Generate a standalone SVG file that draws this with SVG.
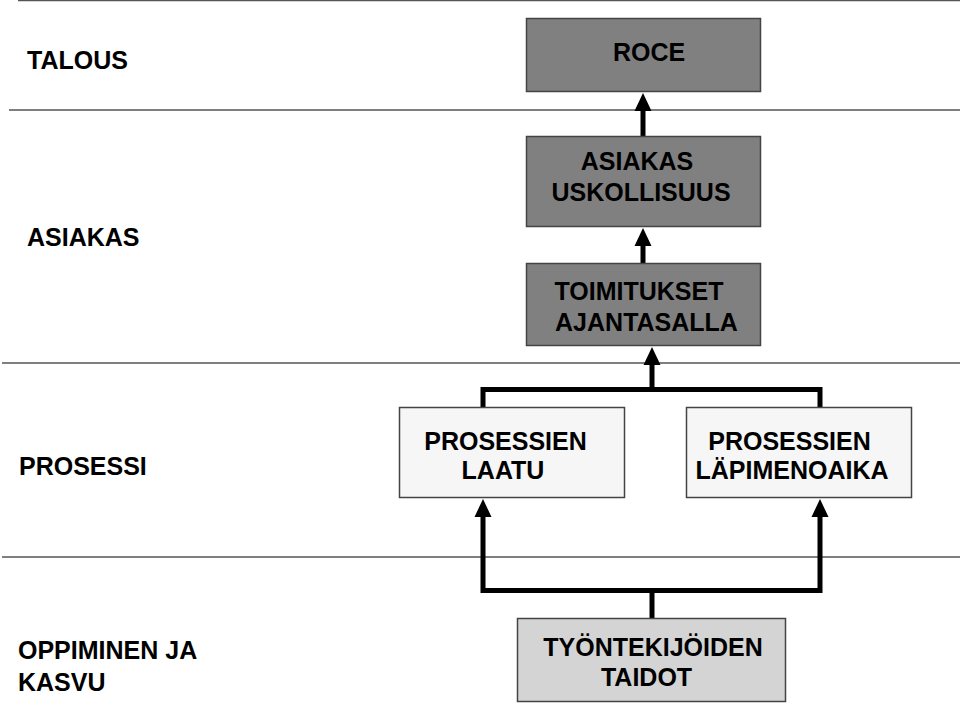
<svg xmlns="http://www.w3.org/2000/svg" width="960" height="703" viewBox="0 0 960 703">
<defs>
<style>
.sep{stroke:#555;stroke-width:1.5;fill:none}
.box{stroke:#444;stroke-width:1.5}
.t{font-family:"Liberation Sans",Arial,sans-serif;font-weight:bold;font-size:25px;fill:#000}
.c{text-anchor:middle}
.con{stroke:#000;stroke-width:5;fill:none}
</style>
<marker id="ah" markerUnits="userSpaceOnUse" markerWidth="18" markerHeight="18" refX="0" refY="8.5" orient="auto" overflow="visible">
<path d="M0,0 L18,8.5 L0,17 z" fill="#000"/>
</marker>
</defs>
<rect width="960" height="703" fill="#fff"/>
<g id="separators">
<line class="sep" x1="18" y1="0.5" x2="960" y2="0.5"/>
<line class="sep" x1="9" y1="110" x2="960" y2="110"/>
<line class="sep" x1="2" y1="363" x2="960" y2="363"/>
<line class="sep" x1="2" y1="557" x2="960" y2="557"/>
</g>
<g id="row-labels">
<text class="t" x="27" y="69">TALOUS</text>
<text class="t" x="27" y="246">ASIAKAS</text>
<text class="t" x="19" y="475">PROSESSI</text>
<text class="t" x="18" y="659">OPPIMINEN JA</text>
<text class="t" x="18" y="691">KASVU</text>
</g>
<g id="connectors">
<path class="con" d="M643,136 V111" marker-end="url(#ah)"/>
<path class="con" d="M643,263 V246" marker-end="url(#ah)"/>
<path class="con" d="M483,407 V389.5 H820 V407"/>
<path class="con" d="M652,389.5 V365" marker-end="url(#ah)"/>
<path class="con" d="M652,618 V590.5 H483 V517" marker-end="url(#ah)"/>
<path class="con" d="M652,590.5 H820 V517" marker-end="url(#ah)"/>
</g>
<g id="roce">
<rect class="box" x="526.5" y="18.5" width="234" height="73" fill="#808080"/>
<text class="t c" x="649" y="61">ROCE</text>
</g>
<g id="asiakas-uskollisuus">
<rect class="box" x="526.5" y="136.5" width="234" height="90" fill="#808080"/>
<text class="t c" x="637" y="170">ASIAKAS</text>
<text class="t c" x="641" y="201">USKOLLISUUS</text>
</g>
<g id="toimitukset">
<rect class="box" x="526.5" y="263.5" width="234" height="82" fill="#808080"/>
<text class="t c" x="639" y="300">TOIMITUKSET</text>
<text class="t c" x="646.5" y="331">AJANTASALLA</text>
</g>
<g id="prosessien-laatu">
<rect class="box" x="399.5" y="407.5" width="225" height="90" fill="#f6f6f6"/>
<text class="t c" x="505.5" y="450">PROSESSIEN</text>
<text class="t c" x="503" y="479">LAATU</text>
</g>
<g id="prosessien-lapimenoaika">
<rect class="box" x="686.5" y="407.5" width="225" height="90" fill="#f6f6f6"/>
<text class="t c" x="789.5" y="450">PROSESSIEN</text>
<text class="t c" x="792" y="479">LÄPIMENOAIKA</text>
</g>
<g id="tyontekijoiden-taidot">
<rect class="box" x="517.5" y="618.5" width="268" height="83" fill="#d4d4d4"/>
<text class="t c" x="653" y="656">TYÖNTEKIJÖIDEN</text>
<text class="t c" x="646.5" y="686">TAIDOT</text>
</g>
</svg>
